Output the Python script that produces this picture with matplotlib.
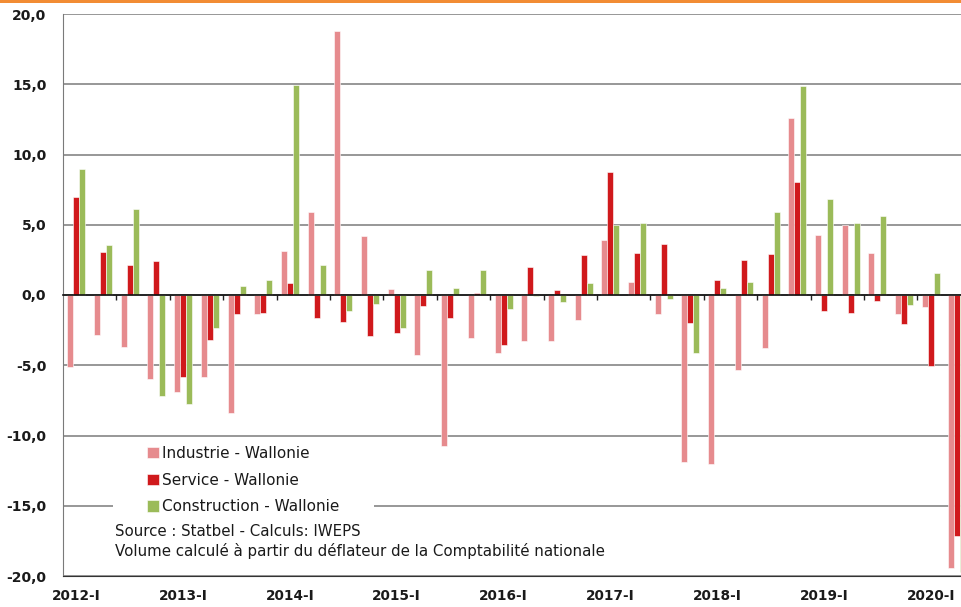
import matplotlib
matplotlib.use('Agg')
import matplotlib.pyplot as plt
import numpy as np
from matplotlib.patches import Rectangle
from matplotlib.ticker import FuncFormatter

plt.rcParams['font.family'] = ['DejaVu Sans']

# quarterly values, 2012-I .. 2020-II (last quarter cut by the right edge)
industrie = [-5.15, -2.87, -3.73, -6.0, -6.9, -5.82, -8.43, -1.38, 3.16, 5.9,
             18.77, 4.2, 0.45, -4.3, -10.78, -3.04, -4.13, -3.28, -3.25, -1.76,
             3.94, 0.93, -1.35, -11.92, -12.0, -5.37, -3.78, 12.62, 4.27, 4.98,
             2.99, -1.38, -0.83, -19.4]
service = [7.0, 3.08, 2.16, 2.4, -5.87, -3.2, -1.35, -1.28, 0.88, -1.66,
           -1.92, -2.92, -2.68, -0.78, -1.64, 0.12, -3.56, 2.02, 0.33, 2.82,
           8.75, 3.01, 3.65, -1.97, 1.07, 2.51, 2.92, 8.04, -1.14, -1.28,
           -0.43, -2.09, -5.04, -17.15]
construction = [8.97, 3.56, 6.1, -7.2, -7.79, -2.37, 0.64, 1.07, 14.97, 2.13,
                -1.14, -0.62, -2.35, 1.76, 0.47, 1.76, -1.0, -0.1, -0.52, 0.85,
                4.98, 5.1, -0.31, -4.16, 0.52, 0.93, 5.9, 14.85, 6.86, 5.15,
                5.6, -0.74, 1.59, -19.7]

year_labels = ['2012-I', '2013-I', '2014-I', '2015-I', '2016-I',
               '2017-I', '2018-I', '2019-I', '2020-I']
series_names = ['Industrie - Wallonie', 'Service - Wallonie', 'Construction - Wallonie']
colors = ['#E68B8E', '#D0191C', '#9BBB59']
source_lines = ['Source : Statbel - Calculs: IWEPS',
                'Volume calculé à partir du déflateur de la Comptabilité nationale']

W, H = 962, 607
fig = plt.figure(figsize=(W / 100, H / 100), dpi=100)

# axes run past the right edge of the picture, like the original crop
n = len(industrie)
cat_px = 26.7
ax = fig.add_axes([63 / W, 31 / H, n * cat_px / W, 562 / H])

x = np.arange(n)
bw = 0.225
for k, (vals, name, col) in enumerate(zip([industrie, service, construction], series_names, colors)):
    ax.bar(x + (k - 1) * bw, vals, width=bw, color=col, edgecolor='white',
           linewidth=0.4, label=name, zorder=3)

ax.set_xlim(-0.5, n - 0.5)
ax.set_ylim(-20, 20)
ax.set_yticks(np.arange(-20, 21, 5))
ax.yaxis.set_major_formatter(FuncFormatter(lambda v, p: f'{v:.1f}'.replace('.', ',')))
ax.set_axisbelow(True)
ax.grid(axis='y', color='#7a7a7a', linewidth=1.1)
ax.grid(axis='x', visible=False)

for s in ['top', 'right']:
    ax.spines[s].set_visible(False)
ax.spines['left'].set_color('#7a7a7a')
ax.spines['bottom'].set_color('#333333')

ax.set_xticks(x[::4])
ax.set_xticklabels(year_labels)
ax.tick_params(axis='x', length=0, pad=9, labelsize=9.8, labelcolor='#1a1a1a')
ax.tick_params(axis='y', length=0, pad=12, labelsize=10, labelcolor='#1a1a1a')
for t in ax.get_xticklabels() + ax.get_yticklabels():
    t.set_fontweight('bold')

# zero line with small ticks every two quarters
zax = ax.secondary_xaxis(0.5)
zax.set_xticks(np.arange(1.5, n, 2))
zax.tick_params(axis='x', direction='in', length=3.5, width=1, color='#222222',
                labelbottom=False, labeltop=False)
for s in zax.spines.values():
    s.set_color('#111111')
    s.set_linewidth(1.2)
zax.set_zorder(4)

# white box behind the legend and source
ax.add_patch(Rectangle((113 / W, (H - 518) / H), (374 - 113) / W, 80 / H,
                       transform=fig.transFigure, facecolor='white',
                       edgecolor='none', zorder=1))

leg = ax.legend(loc='upper left', bbox_to_anchor=(141 / W, (H - 440) / H),
                bbox_transform=fig.transFigure, frameon=False, fontsize=11,
                handlelength=0.75, handleheight=0.75, handletextpad=0.2,
                labelspacing=0.76, borderaxespad=0)
for t in leg.get_texts():
    t.set_color('#1a1a1a')

for i, line in enumerate(source_lines):
    fig.text(115 / W, (H - 532 - i * 19) / H, line, fontsize=10.85,
             color='#1a1a1a', va='center', ha='left')

# orange band at the top
fig.patches.append(Rectangle((0, 1 - 3 / H), 1, 3 / H, transform=fig.transFigure,
                             facecolor='#F28C34', edgecolor='none'))

fig.savefig('out.png', dpi=100)
